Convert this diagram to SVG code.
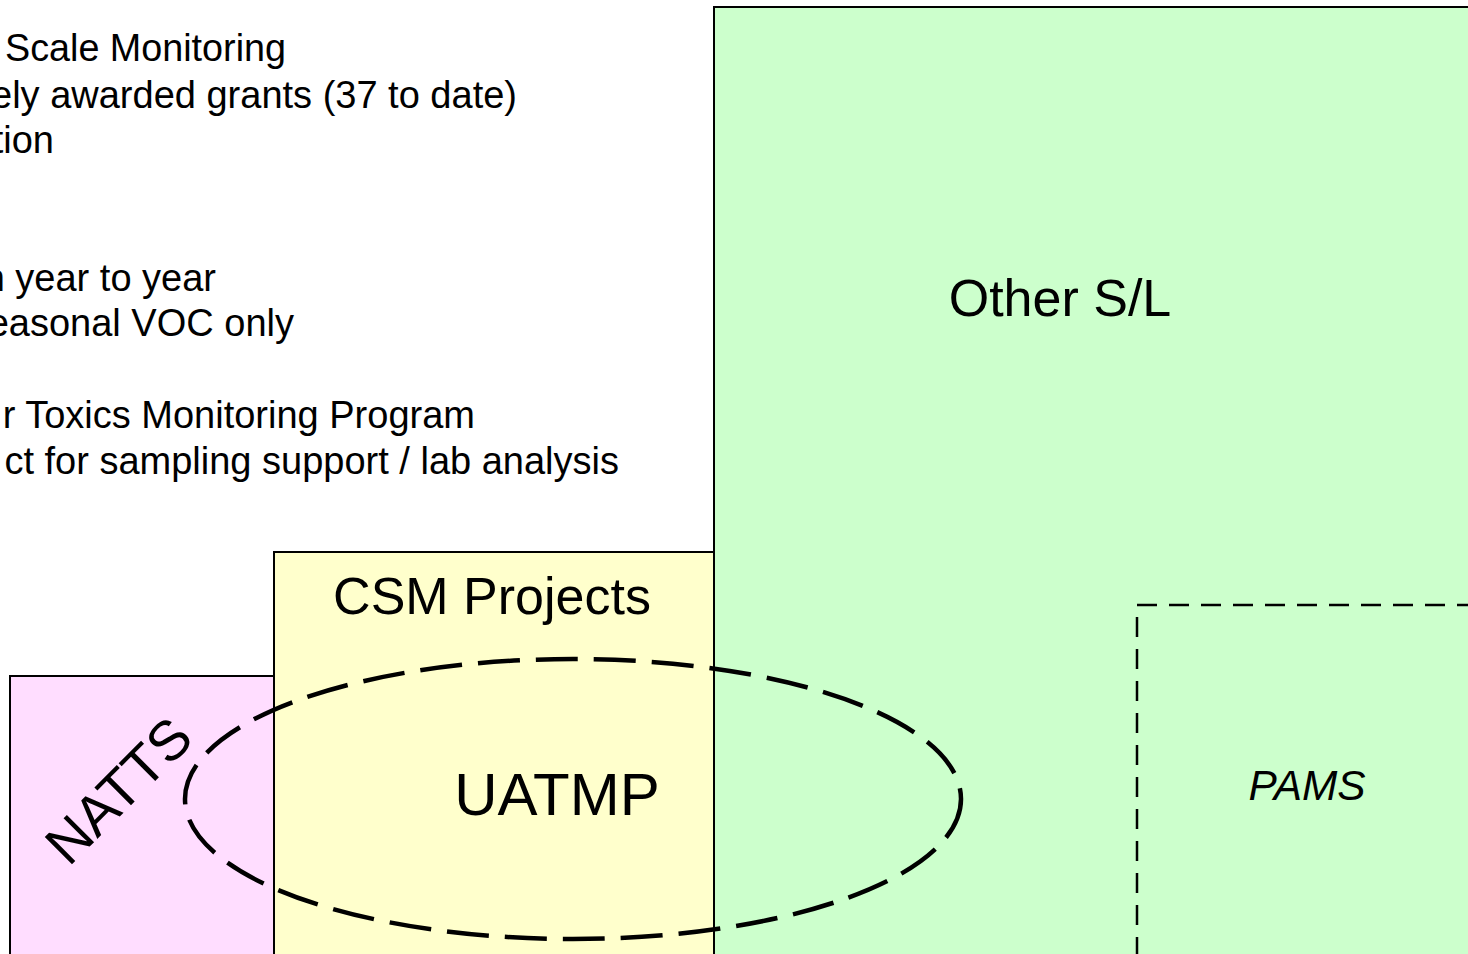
<svg xmlns="http://www.w3.org/2000/svg" width="1468" height="954" viewBox="0 0 1468 954">
<style>
.t{font-family:"Liberation Sans",Arial,sans-serif;fill:#000}
.body{font-size:38px}
.box{stroke:#000;stroke-width:2}
</style>
<rect x="0" y="0" width="1468" height="954" fill="#fff"/>
<g id="bullets" class="t body">
<text x="5" y="61" textLength="281" lengthAdjust="spacingAndGlyphs">Scale Monitoring</text>
<text x="517" y="108" text-anchor="end">ely awarded grants (37 to date)</text>
<text x="54" y="153" text-anchor="end">tion</text>
<text x="216" y="291" text-anchor="end">n year to year</text>
<text x="294" y="336" text-anchor="end">easonal VOC only</text>
<text x="475" y="428" text-anchor="end">r Toxics Monitoring Program</text>
<text x="619" y="474" text-anchor="end">ct for sampling support / lab analysis</text>
</g>
<g id="other-sl">
<rect class="box" x="714" y="7" width="770" height="960" fill="#CCFFCC"/>
<text class="t" x="1060" y="316" font-size="52" text-anchor="middle">Other S/L</text>
</g>
<g id="csm">
<rect class="box" x="274" y="552" width="440" height="420" fill="#FFFFCC"/>
<text class="t" x="492" y="614" font-size="52" text-anchor="middle">CSM Projects</text>
</g>
<g id="natts">
<rect class="box" x="10" y="676" width="264" height="300" fill="#FFDDFF"/>
<text class="t" transform="translate(118,790) rotate(-45)" font-size="56" text-anchor="middle" dy="20">NATTS</text>
</g>
<g id="pams">
<rect x="1137" y="605" width="400" height="400" fill="none" stroke="#000" stroke-width="2.5" stroke-dasharray="20 12"/>
<text class="t" x="1307" y="800" font-size="42" font-style="italic" text-anchor="middle" textLength="117" lengthAdjust="spacingAndGlyphs">PAMS</text>
</g>
<g id="uatmp">
<ellipse cx="573" cy="799" rx="388" ry="140" fill="none" stroke="#000" stroke-width="4.5" stroke-dasharray="42 16"/>
<text class="t" x="557" y="815" font-size="60" text-anchor="middle">UATMP</text>
</g>
</svg>
